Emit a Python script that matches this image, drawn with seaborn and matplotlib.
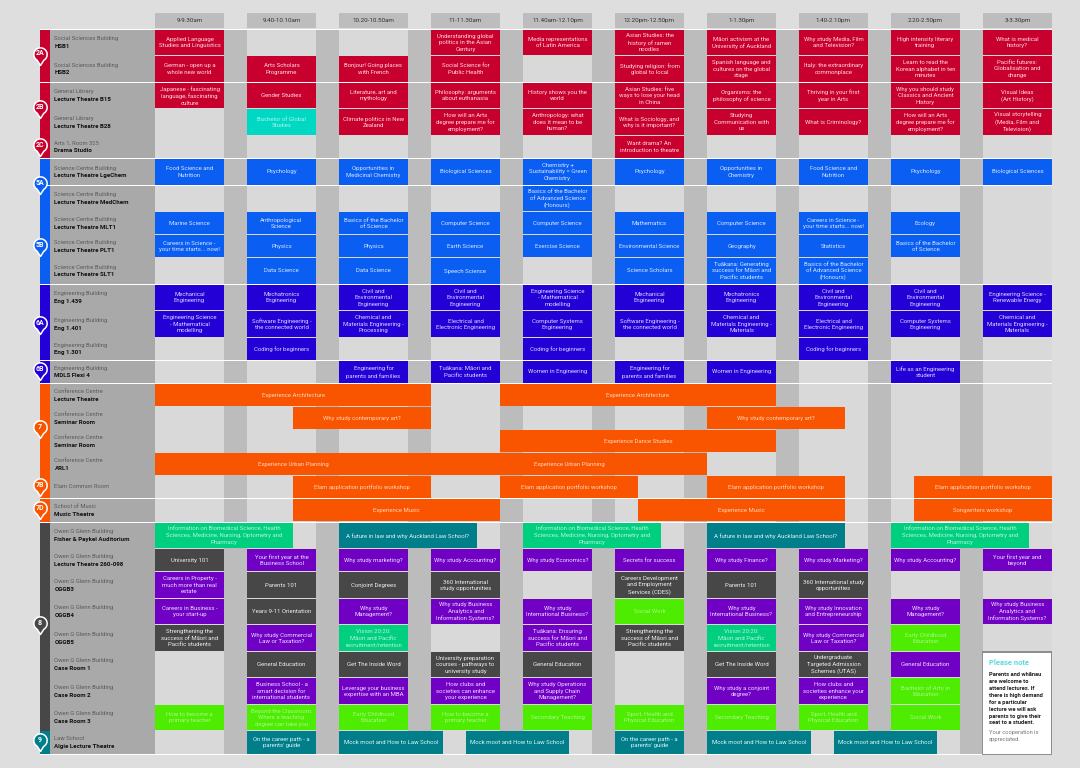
import numpy as np
import matplotlib
matplotlib.use("Agg")
import matplotlib.pyplot as plt
import seaborn as sns
from matplotlib.markers import MarkerStyle
from matplotlib.path import Path

# sessions
session_labels = ["9-9.30am", "9.40-10.10am", "10.20-10.50am", "11-11.30am", "11.40am-12.10pm",
                  "12.20pm-12.50pm", "1-1.30pm", "1.40-2.10pm", "2.20-2.50pm", "3-3.30pm"]
session_starts = [0, 40, 80, 120, 160, 200, 240, 280, 320, 360]
session_len = 30

# rooms
buildings = ["Social Sciences Building", "Social Sciences Building", "General Library", "General Library",
             "Arts 1, Room 325", "Science Centre Building", "Science Centre Building", "Science Centre Building",
             "Science Centre Building", "Science Centre Building", "Engineering Building", "Engineering Building",
             "Engineering Building", "Engineering Building", "Conference Centre", "Conference Centre",
             "Conference Centre", "Conference Centre", "Elam Common Room", "School of Music",
             "Owen G Glenn Building", "Owen G Glenn Building", "Owen G Glenn Building", "Owen G Glenn Building",
             "Owen G Glenn Building", "Owen G Glenn Building", "Owen G Glenn Building", "Owen G Glenn Building",
             "Law School"]
room_names = ["HSB1", "HSB2", "Lecture Theatre B15", "Lecture Theatre B28", "Drama Studio",
              "Lecture Theatre LgeChem", "Lecture Theatre MedChem", "Lecture Theatre MLT1", "Lecture Theatre PLT1",
              "Lecture Theatre SLT1", "Eng 1.439", "Eng 1.401", "Eng 1.301", "MDLS Flexi 4", "Lecture Theatre",
              "Seminar Room", "Seminar Room", "ARL1", "", "Music Theatre", "Fisher & Paykel Auditorium",
              "Lecture Theatre 260-098", "OGGB3", "OGGB4", "OGGB5", "Case Room 1", "Case Room 2", "Case Room 3",
              "Algie Lecture Theatre"]
room_kinds = "RRRRRBBBBBIIIIOOOOOOPPPPPPPPT"

pin_labels = ["2A", "2B", "2C", "5A", "5B", "6A", "6B", "7", "7B", "7D", "8", "9"]
pin_kinds = "RRRBBIIOOODT"

# talks that fill one session, one list per room
hsb1 = ["Applied Language\nStudies and Linguistics", None, None, "Understanding global\npolitics in the Asian\nCentury",
        "Media representations\nof Latin America", "Asian Studies: the\nhistory of ramen\nnoodles",
        "Māori activism at the\nUniversity of Auckland", "Why study Media, Film\nand Television?",
        "High intensity literary\ntraining", "What is medical\nhistory?"]
hsb2 = ["German - open up a\nwhole new world", "Arts Scholars\nProgramme", "Bonjour! Going places\nwith French",
        "Social Science for\nPublic Health", None, "Studying religion: from\nglobal to local",
        "Spanish language and\ncultures on the global\nstage", "Italy: the extraordinary\ncommonplace",
        "Learn to read the\nKorean alphabet in ten\nminutes", "Pacific futures:\nGlobalisation and\nchange"]
b15 = ["Japanese - fascinating\nlanguage, fascinating\nculture", "Gender Studies", "Literature, art and\nmythology",
       "Philosophy: arguments\nabout euthanasia", "History shows you the\nworld",
       "Asian Studies: five\nways to lose your head\nin China", "Organisms: the\nphilosophy of science",
       "Thriving in your first\nyear in Arts", "Why you should study\nClassics and Ancient\nHistory",
       "Visual Ideas\n(Art History)"]
b28 = [None, "Bachelor of Global\nStudies", "Climate politics in New\nZealand",
       "How will an Arts\ndegree prepare me for\nemployment?", "Anthropology: what\ndoes it mean to be\nhuman?",
       "What is Sociology, and\nwhy is it important?", "Studying\nCommunication with\nus", "What is Criminology?",
       "How will an Arts\ndegree prepare me for\nemployment?", "Visual storytelling\n(Media, Film and\nTelevision)"]
drama = [None, None, None, None, None, "Want drama? An\nintroduction to theatre", None, None, None, None]
lgechem = ["Food Science and\nNutrition", "Psychology", "Opportunities in\nMedicinal Chemistry", "Biological Sciences",
           "Chemistry +\nSustainability = Green\nChemistry", "Psychology", "Opportunities in\nChemistry",
           "Food Science and\nNutrition", "Psychology", "Biological Sciences"]
medchem = [None, None, None, None, "Basics of the Bachelor\nof Advanced Science\n(Honours)", None, None, None, None, None]
mlt1 = ["Marine Science", "Anthropological\nScience", "Basics of the Bachelor\nof Science", "Computer Science",
        "Computer Science", "Mathematics", "Computer Science", "Careers in Science -\nyour time starts... now!",
        "Ecology", None]
plt1 = ["Careers in Science -\nyour time starts... now!", "Physics", "Physics", "Earth Science", "Exercise Science",
        "Environmental Science", "Geography", "Statistics", "Basics of the Bachelor\nof Science", None]
slt1 = [None, "Data Science", "Data Science", "Speech Science", None, "Science Scholars",
        "Tuākana: Generating\nsuccess for Māori and\nPacific students",
        "Basics of the Bachelor\nof Advanced Science\n(Honours)", None, None]
eng439 = ["Mechanical\nEngineering", "Mechatronics\nEngineering", "Civil and\nEnvironmental\nEngineering",
          "Civil and\nEnvironmental\nEngineering", "Engineering Science\n- Mathematical\nmodelling",
          "Mechanical\nEngineering", "Mechatronics\nEngineering", "Civil and\nEnvironmental\nEngineering",
          "Civil and\nEnvironmental\nEngineering", "Engineering Science -\nRenewable Energy"]
eng401 = ["Engineering Science\n- Mathematical\nmodelling", "Software Engineering -\nthe connected world",
          "Chemical and\nMaterials Engineering -\nProcessing", "Electrical and\nElectronic Engineering",
          "Computer Systems\nEngineering", "Software Engineering -\nthe connected world",
          "Chemical and\nMaterials Engineering -\nMaterials", "Electrical and\nElectronic Engineering",
          "Computer Systems\nEngineering", "Chemical and\nMaterials Engineering -\nMaterials"]
eng301 = [None, "Coding for beginners", None, None, "Coding for beginners", None, None, "Coding for beginners", None, None]
mdls = [None, None, "Engineering for\nparents and families", "Tuākana: Māori and\nPacific students",
        "Women in Engineering", "Engineering for\nparents and families", "Women in Engineering", None,
        "Life as an Engineering\nstudent", None]
ogg260 = ["University 101", "Your first year at the\nBusiness School", "Why study marketing?", "Why study Accounting?",
          "Why study Economics?", "Secrets for success", "Why study Finance?", "Why study Marketing?",
          "Why study Accounting?", "Your first year and\nbeyond"]
oggb3 = ["Careers in Property -\nmuch more than real\nestate", "Parents 101", "Conjoint Degrees",
         "360 International\nstudy opportunities", None, "Careers Development\nand Employment\nServices (CDES)",
         "Parents 101", "360 International study\nopportunities", None, None]
oggb4 = ["Careers in Business -\nyour start-up", "Years 9-11 Orientation", "Why study\nManagement?",
         "Why study Business\nAnalytics and\nInformation Systems?", "Why study\nInternational Business?", "Social Work",
         "Why study\nInternational Business?", "Why study Innovation\nand Entrepreneurship", "Why study\nManagement?",
         "Why study Business\nAnalytics and\nInformation Systems?"]
oggb5 = ["Strengthening the\nsuccess of Māori and\nPacific students", "Why study Commercial\nLaw or Taxation?",
         "Vision 20:20:\nMāori and Pacific\nrecruitment/retention", None,
         "Tuākana: Ensuring\nsuccess for Māori and\nPacific students",
         "Strengthening the\nsuccess of Māori and\nPacific students",
         "Vision 20:20:\nMāori and Pacific\nrecruitment/retention", "Why study Commercial\nLaw or Taxation?",
         "Early Childhood\nEducation", None]
case1 = [None, "General Education", "Get The Inside Word",
         "University preparation\ncourses - pathways to\nuniversity study", "General Education", None,
         "Get The Inside Word", "Undergraduate\nTargeted Admission\nSchemes (UTAS)", "General Education", None]
case2 = [None, "Business School - a\nsmart decision for\ninternational students",
         "Leverage your business\nexpertise with an MBA", "How clubs and\nsocieties can enhance\nyour experience",
         "Why study Operations\nand Supply Chain\nManagement?", None, "Why study a conjoint\ndegree?",
         "How clubs and\nsocieties enhance your\nexperience", "Bachelor of Arts in\nEducation", None]
case3 = ["How to become a\nprimary teacher", "Beyond the Classroom:\nWhere a teaching\ndegree can take you",
         "Early Childhood\nEducation", "How to become a\nprimary teacher", "Secondary Teaching",
         "Sport, Health and\nPhysical Education", "Secondary Teaching", "Sport, Health and\nPhysical Education",
         "Social Work", None]
algie = [None, "On the career path - a\nparents' guide", None, None, None, "On the career path - a\nparents' guide",
         None, None, None, None]
empty = [None] * 10

slot_titles = [hsb1, hsb2, b15, b28, drama, lgechem, medchem, mlt1, plt1, slt1, eng439, eng401, eng301, mdls,
               empty, empty, empty, empty, empty, empty, empty, ogg260, oggb3, oggb4, oggb5, case1, case2, case3, algie]

# where a slot differs from the room's colour
slot_kind_rooms = [3, 21, 22, 22, 22, 22, 22, 22, 23, 23, 24, 24, 24, 24, 24, 25, 25, 25, 25, 25, 25, 26, 27, 27,
                   27, 27, 27, 27, 27, 27, 27]
slot_kind_cols = [1, 0, 1, 2, 3, 5, 6, 7, 1, 5, 0, 2, 5, 6, 8, 1, 2, 3, 4, 6, 7, 8, 0, 1, 2, 3, 4, 5, 6, 7, 8]
slot_kind_vals = "ADDDDDDDDEDMDME" + "DDDDDD" + "E" + "EEEEEEEEE"

# talks that run longer or off the session grid
span_rooms = [14, 14, 15, 15, 16, 17, 17, 18, 18, 18, 18, 19, 19, 19, 20, 20, 20, 20, 20, 28, 28, 28, 28]
span_starts = [0, 150, 60, 240, 150, 0, 120, 60, 150, 240, 330, 60, 210, 330, 0, 80, 160, 240, 320, 80, 135, 240, 295]
span_ends = [120, 270, 120, 300, 270, 120, 240, 120, 210, 300, 390, 150, 300, 390, 60, 140, 220, 300, 380, 125, 180, 285, 340]
span_kinds = "OOOOOOOOOOOOOOMTMTMTTTT"
span_titles = ["Experience Architecture", "Experience Architecture", "Why study contemporary art?",
               "Why study contemporary art?", "Experience Dance Studies", "Experience Urban Planning",
               "Experience Urban Planning", "Elam application portfolio workshop",
               "Elam application portfolio workshop", "Elam application portfolio workshop",
               "Elam application portfolio workshop", "Experience Music", "Experience Music", "Songwriters workshop",
               "Information on Biomedical Science, Health\nSciences, Medicine, Nursing, Optometry and\nPharmacy",
               "A future in law and why Auckland Law School?",
               "Information on Biomedical Science, Health\nSciences, Medicine, Nursing, Optometry and\nPharmacy",
               "A future in law and why Auckland Law School?",
               "Information on Biomedical Science, Health\nSciences, Medicine, Nursing, Optometry and\nPharmacy",
               "Mock moot and How to Law School", "Mock moot and How to Law School",
               "Mock moot and How to Law School", "Mock moot and How to Law School"]

note_title = "Please note"
note_body = ("Parents and whānau\nare welcome to\nattend lectures. If\nthere is high demand\nfor a particular\n"
             "lecture we will ask\nparents to give their\nseat to a student.")
note_foot = "Your cooperation is\nappreciated."

# layout, in picture pixels
row_tops = [30, 56, 83, 109, 136, 159, 186, 212, 235, 258, 285, 311, 338, 361, 384, 407, 430, 453, 476, 499,
            523, 549, 572, 599, 625, 652, 678, 705, 731]
row_bots = [55.5, 82, 108.5, 135.5, 158, 185, 211.5, 234.5, 257.5, 284, 310.5, 337.5, 360, 383, 406.5, 429.5, 452.5, 475.5,
            498, 521.5, 548.5, 571.5, 598.5, 624.5, 651.5, 677.5, 704.5, 730.5, 754]
pin_y = [53.5, 107, 145, 183, 245, 323, 369, 427, 485, 508, 623, 740]

colours = {"R": "#c8002e", "B": "#0a5ff2", "I": "#2300d5", "O": "#f95500", "D": "#474747", "T": "#007e8a",
           "P": "#6f00c4", "E": "#4eec00", "M": "#00cf7f", "A": "#00d8c4"}
text_colours = {"R": "#ffdbe2", "B": "#d5e4ff", "I": "#dcd6ff", "O": "#ffd3b8", "D": "#eeeeee", "T": "#e2f4f6",
                "P": "#efdcff", "E": "#a8f58a", "M": "#b5f5dc", "A": "#a8f5ec"}

sns.set_theme(style="white")
plt.rcParams["font.family"] = ["Roboto", "DejaVu Sans"]

PX_PER_MIN = 2.3
LEFT_PX = 155


def px(x):
    return (x - LEFT_PX) / PX_PER_MIN


fig = plt.figure(figsize=(10.8, 7.68), dpi=100, facecolor="#dedede")
ax = fig.add_axes([0, 0, 1, 1])


def bar(start, end, top, bot, colour):
    sns.barplot(x=[end - start], y=[(top + bot) / 2], left=start, width=bot - top, orient="h", native_scale=True,
                color=colour, saturation=1, errorbar=None, linewidth=0, ax=ax)


def talk(x, y, s, colour):
    ax.text(x, y, s, ha="center", va="center", fontsize=4.35, color=colour, linespacing=1.36, zorder=4)


# white rules behind the grid
bar(px(40), 390, 29, 755, "#ffffff")

for i in range(len(row_tops)):
    top, bot = row_tops[i], row_bots[i]
    bar(px(40), px(50), top, bot, colours[room_kinds[i].replace("P", "D")])
    bar(px(50), 0, top, bot, "#a9a9a9")
    bar(0, 390, top, bot, "#d9d9d9")
    for s in session_starts[:-1]:
        bar(s + session_len, s + 40, top, bot, "#bcbcbc")
    y = (top + bot) / 2
    if room_names[i]:
        ax.text(px(54.5), y - 3.8, buildings[i], fontsize=4.2, color="#5a5a5a", va="center")
        ax.text(px(54.5), y + 3.8, room_names[i], fontsize=4.4, color="#111111", va="center", fontweight="bold")
    else:
        ax.text(px(54.5), y, buildings[i], fontsize=4.2, color="#5a5a5a", va="center")

# session headers
for s, lab in zip(session_starts, session_labels):
    bar(s, s + session_len, 12.5, 28, "#bdbdbd")
    ax.text(s + session_len / 2, 20.5, lab, ha="center", va="center", fontsize=4.5, color="#333333")

slot_overrides = {(r, c): k for r, c, k in zip(slot_kind_rooms, slot_kind_cols, slot_kind_vals)}

for r, titles in enumerate(slot_titles):
    for c, title in enumerate(titles):
        if title is None:
            continue
        kind = slot_overrides.get((r, c), room_kinds[r])
        s = session_starts[c]
        bar(s, s + session_len, row_tops[r], row_bots[r] - 0.5, colours[kind])
        talk(s + session_len / 2, (row_tops[r] + row_bots[r]) / 2, title, text_colours[kind])

for r, a, b, kind, title in zip(span_rooms, span_starts, span_ends, span_kinds, span_titles):
    bar(a, b, row_tops[r], row_bots[r] - 0.5, colours[kind])
    talk((a + b) / 2, (row_tops[r] + row_bots[r]) / 2, title, text_colours[kind])

# note box
bar(360 - 0.4, 390, 651, 755, "#8e8e8e")
bar(360 + 0.2, 389.4, 652.5, 753.5, "#ffffff")
ax.text(px(989), 663, note_title, fontsize=5.4, color="#5fd8d8", fontweight="bold", va="center")
ax.text(px(989), 672.5, note_body, fontsize=4.15, color="#222222", fontweight="bold", va="top", linespacing=1.46)
ax.text(px(989), 730, note_foot, fontsize=4.15, color="#777777", va="top", linespacing=1.46)

# map pins
theta = np.radians(np.linspace(-60, 240, 40))
pin_verts = np.column_stack([np.cos(theta), np.sin(theta)])
pin_verts = np.vstack([pin_verts, [0, -1.65], pin_verts[0]])
pin_marker = MarkerStyle(Path(pin_verts, closed=True))
for lab, kind, y in zip(pin_labels, pin_kinds, pin_y):
    sns.scatterplot(x=[px(40)], y=[y], marker=pin_marker, s=250, color=colours[kind], edgecolor="white",
                    linewidth=1.1, legend=False, ax=ax, zorder=5)
    ax.text(px(40), y - 0.2, lab, ha="center", va="center", fontsize=5, color="white", fontweight="bold", zorder=6)

ax.set_xlim(px(0), px(1080))
ax.set_ylim(768, 0)
ax.set_axis_off()
sns.despine(ax=ax, left=True, bottom=True)
fig.savefig("out.png", dpi=100, facecolor=fig.get_facecolor())
